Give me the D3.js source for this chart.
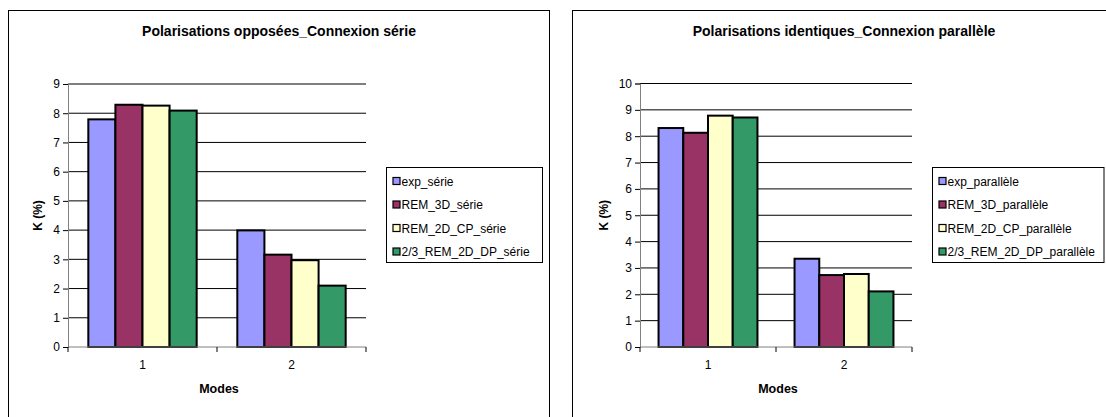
<!DOCTYPE html>
<html>
<head>
<meta charset="utf-8">
<script src="https://cdn.jsdelivr.net/npm/d3@7/dist/d3.min.js"></script>
<style>
  html, body { margin: 0; padding: 0; background: #ffffff; }
  svg { display: block; font-family: "Liberation Sans", Arial, sans-serif; }
</style>
</head>
<body>
<svg id="chart" width="1106" height="417"></svg>
<script>
// ---- Data ----
const modes = ["1", "2"];
const seriesColors = ["#9999FF", "#993366", "#FFFFCC", "#339966"];

// Chart 1: Polarisations opposées_Connexion série
const titleSerie = "Polarisations opposées_Connexion série";
const seriesSerie = ["exp_série", "REM_3D_série", "REM_2D_CP_série", "2/3_REM_2D_DP_série"];
const expSerie    = [7.79, 3.99];
const rem3dSerie  = [8.29, 3.16];
const cpSerie     = [8.26, 2.97];
const dpSerie     = [8.09, 2.10];
const yTicksSerie = [0, 1, 2, 3, 4, 5, 6, 7, 8, 9];

// Chart 2: Polarisations identiques_Connexion parallèle
const titlePar = "Polarisations identiques_Connexion parallèle";
const seriesPar = ["exp_parallèle", "REM_3D_parallèle", "REM_2D_CP_parallèle", "2/3_REM_2D_DP_parallèle"];
const expPar    = [8.31, 3.35];
const rem3dPar  = [8.13, 2.73];
const cpPar     = [8.78, 2.77];
const dpPar     = [8.71, 2.11];
const yTicksPar = [0, 1, 2, 3, 4, 5, 6, 7, 8, 9, 10];

const yAxisTitle = "K (%)";
const xAxisTitle = "Modes";

// ---- Drawing ----
const svg = d3.select("#chart");

function drawChart(cfg) {
  const g = svg.append("g");
  // outer frame
  g.append("rect")
    .attr("x", cfg.frame[0]).attr("y", cfg.frame[1])
    .attr("width", cfg.frame[2]).attr("height", cfg.frame[3])
    .attr("fill", "#ffffff").attr("stroke", "#000").attr("stroke-width", 1);

  const p = cfg.plot; // [left, top, right, bottom]
  const yMax = cfg.yTicks[cfg.yTicks.length - 1];
  const y = d3.scaleLinear().domain([0, yMax]).range([p[3], p[1]]);
  const x0 = d3.scaleBand().domain(modes).range([p[0], p[2]]).padding(0);
  const bw = x0.bandwidth();
  const gapRatio = 1.5;
  const nS = cfg.series.length;
  const groupW = bw * nS / (nS + gapRatio);
  const off = (bw - groupW) / 2;
  const x1 = d3.scaleBand().domain(d3.range(nS)).range([off, off + groupW]).padding(0);

  // gridlines
  g.append("g").selectAll("line").data(cfg.yTicks.filter(t => t > 0)).join("line")
    .attr("x1", p[0]).attr("x2", p[2])
    .attr("y1", d => y(d)).attr("y2", d => y(d))
    .attr("stroke", "#000").attr("stroke-width", 1);

  // bars
  const rows = [];
  cfg.values.forEach((vals, si) => vals.forEach((v, mi) => rows.push({ si, mode: modes[mi], v })));
  g.append("g").selectAll("rect").data(rows).join("rect")
    .attr("x", d => x0(d.mode) + x1(d.si))
    .attr("y", d => y(d.v))
    .attr("width", x1.bandwidth())
    .attr("height", d => y(0) - y(d.v))
    .attr("fill", d => seriesColors[d.si])
    .attr("stroke", "#000").attr("stroke-width", 2);

  // y axis
  const yAxis = d3.axisLeft(y).tickValues(cfg.yTicks).tickSize(5).tickPadding(3).tickFormat(d3.format("d"));
  const ya = g.append("g").attr("transform", `translate(${p[0]},0)`).call(yAxis);
  ya.select(".domain").attr("stroke", "#808080");
  ya.selectAll(".tick line").attr("stroke", "#000");
  ya.selectAll(".tick text").attr("font-size", 12).attr("fill", "#000")
    .attr("font-family", "Liberation Sans, Arial, sans-serif");

  // x axis
  const xa = g.append("g").attr("transform", `translate(0,${p[3]})`);
  xa.append("line").attr("x1", p[0]).attr("x2", p[2]).attr("y1", 0).attr("y2", 0)
    .attr("stroke", "#808080").attr("stroke-width", 1);
  const bounds = modes.map(m => x0(m)).concat([p[2]]);
  xa.selectAll("line.tk").data(bounds).join("line").attr("class", "tk")
    .attr("x1", d => d).attr("x2", d => d).attr("y1", 0).attr("y2", 5)
    .attr("stroke", "#000");
  xa.selectAll("text").data(modes).join("text")
    .attr("x", d => x0(d) + bw / 2).attr("y", 22)
    .attr("text-anchor", "middle").attr("font-size", 12).text(d => d);

  // titles
  g.append("text").attr("x", cfg.titleX).attr("y", 36)
    .attr("text-anchor", "middle").attr("font-size", 14).attr("font-weight", "bold")
    .text(cfg.title);
  g.append("text").attr("x", (p[0] + p[2]) / 2 + 2).attr("y", 392.5)
    .attr("text-anchor", "middle").attr("font-size", 12.5).attr("font-weight", "bold")
    .text(xAxisTitle);
  g.append("text")
    .attr("transform", `translate(${cfg.yTitleX},${(p[1] + p[3]) / 2}) rotate(-90)`)
    .attr("text-anchor", "middle").attr("font-size", 12).attr("font-weight", "bold")
    .text(yAxisTitle);

  // legend
  const L = cfg.legend; // [x, y, w, h]
  const lg = g.append("g");
  lg.append("rect").attr("x", L[0]).attr("y", L[1]).attr("width", L[2]).attr("height", L[3])
    .attr("fill", "#fff").attr("stroke", "#000").attr("stroke-width", 1);
  const items = lg.selectAll("g.item").data(cfg.series).join("g").attr("class", "item")
    .attr("transform", (d, i) => `translate(${L[0]},${L[1] + 13.5 + i * 23.5})`);
  items.append("rect").attr("x", 6.5).attr("y", -3.5).attr("width", 7).attr("height", 7)
    .attr("fill", (d, i) => seriesColors[i]).attr("stroke", "#000").attr("stroke-width", 1.2);
  items.append("text").attr("x", 15).attr("y", 4.5).attr("font-size", 12).text(d => d);
}

drawChart({
  frame: [8.5, 10.5, 541, 430],
  plot: [68, 84, 366, 347],
  yTicks: yTicksSerie,
  series: seriesSerie,
  values: [expSerie, rem3dSerie, cpSerie, dpSerie],
  title: titleSerie,
  titleX: 279,
  yTitleX: 41.5,
  legend: [386.5, 167.5, 156, 95]
});

drawChart({
  frame: [572.5, 10.5, 560, 430],
  plot: [640, 83.5, 912, 347],
  yTicks: yTicksPar,
  series: seriesPar,
  values: [expPar, rem3dPar, cpPar, dpPar],
  title: titlePar,
  titleX: 844,
  yTitleX: 607.5,
  legend: [932.5, 167.5, 171.5, 95]
});
</script>
</body>
</html>
